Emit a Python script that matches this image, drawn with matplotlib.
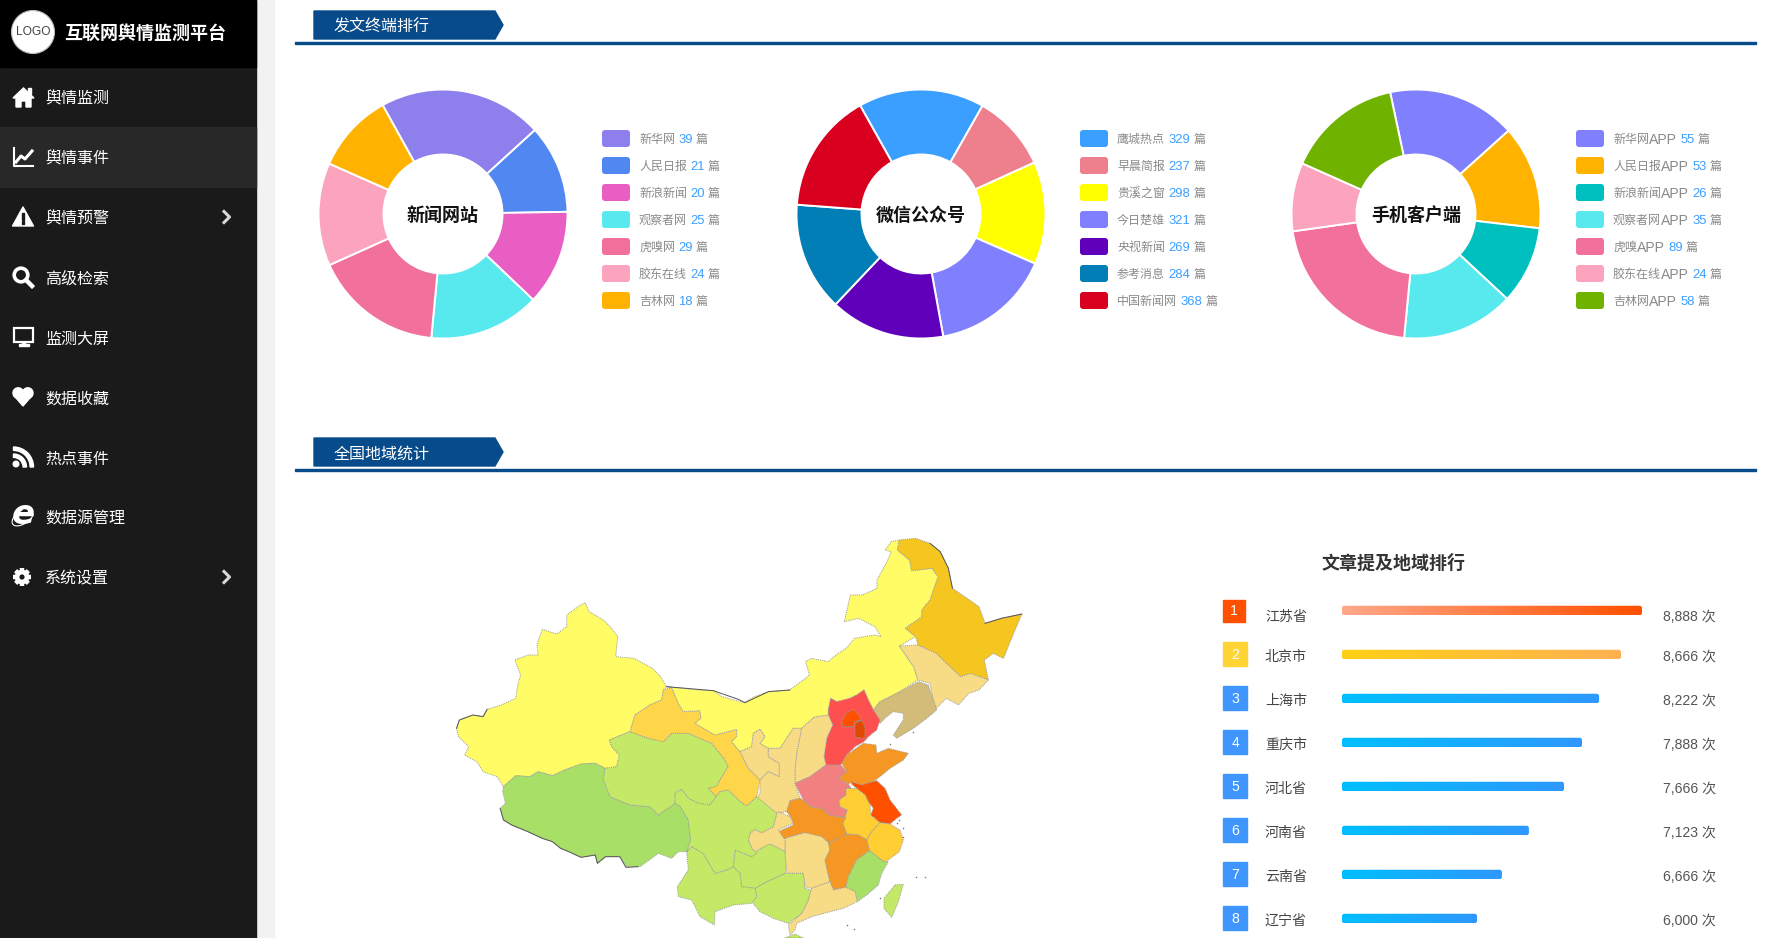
import matplotlib
matplotlib.use('Agg')
import matplotlib.pyplot as plt
import numpy as np
from matplotlib.colors import LinearSegmentedColormap
from matplotlib.patches import Arc, Circle, FancyBboxPatch, Polygon, Rectangle, Wedge

plt.rcParams['font.family'] = ['Liberation Sans', 'Noto Sans CJK SC', 'DejaVu Sans']

W, H = 1775, 938

# sidebar
menu_items = ['舆情监测', '舆情事件', '舆情预警', '高级检索', '监测大屏', '数据收藏', '热点事件', '数据源管理', '系统设置']
menu_with_arrow = ['舆情预警', '系统设置']

# donuts: legend counts as printed, slice sizes in degrees as drawn in the picture
news_names = ['新华网', '人民日报', '新浪新闻', '观察者网', '虎嗅网', '胶东在线', '吉林网']
news_counts = [39, 21, 20, 25, 29, 24, 18]
news_slices = [76.6, 41.4, 44.6, 51.8, 60.4, 48.1, 37.1]
news_colors = ['#8E80EC', '#5087F0', '#E85EC2', '#58E9EF', '#F2719C', '#FCA3BD', '#FFB300']

wechat_names = ['鹰城热点', '早晨简报', '贵溪之窗', '今日楚雄', '央视新闻', '参考消息', '中国新闻网']
wechat_counts = [329, 237, 298, 321, 269, 284, 368]
wechat_slices = [58.9, 36.0, 47.9, 56.2, 53.7, 50.9, 56.4]
wechat_colors = ['#3A9FFF', '#EE808E', '#FFFF00', '#8080FF', '#6000BB', '#007EB5', '#D9001F']

app_names = ['新华网APP', '人民日报APP', '新浪新闻APP', '观察者网APP', '虎嗅APP', '胶东在线APP', '吉林网APP']
app_counts = [55, 53, 26, 35, 89, 24, 58]
app_slices = [60.0, 48.6, 36.4, 52.5, 76.5, 32.0, 54.0]
app_colors = ['#8080FF', '#FFB300', '#00BFBF', '#58E9EF', '#F2719C', '#FCA3BD', '#6FB300']

# ranking
rank_names = ['江苏省', '北京市', '上海市', '重庆市', '河北省', '河南省', '云南省', '辽宁省']
rank_values = [8888, 8666, 8222, 7888, 7666, 7123, 6666, 6000]
rank_bar_pct = [100, 93, 85.7, 80, 74, 62.3, 53.3, 45]

# map colours by level
level_colors = {
    'y': '#FFFC66', 'a': '#A8E067', 'b': '#C3E966', 'c': '#F7DC85', 'd': '#FFD54A',
    'e': '#FFCE33', 'f': '#F59722', 'g': '#F5C520', 'h': '#D3BB7A', 'i': '#F28080',
    'j': '#FF5050', 'k': '#FF5000', 'l': '#E04A00',
}


def east(pts):
    return [(759.5 + 0.8167 * a, 420 + b) for a, b in pts]


def mid(pts):
    return [(416.5 + 0.8167 * a, 360 + b) for a, b in pts]


provinces = {
    '新疆': ('y', [(65,625),(72,600),(105,585),(130,590),(140,568),(175,555),(210,535),(215,495),(222,465),(208,420),(240,405),(265,405),(262,375),(275,328),(310,342),(335,320),(335,285),(360,262),(380,248),(390,275),(425,300),(445,325),(460,350),(455,410),(500,415),(545,445),(565,470)]
              + mid([(200,140),(190,150),(185,180),(150,195),(105,225),(90,275),(28,300),(35,320),(58,345),(50,380),(15,385)])
              + [(405,730),(370,732),(330,750),(300,767),(265,755),(245,770),(210,767),(180,800),(165,770),(130,755),(115,725),(85,705),(95,680),(70,650)]),
    '西藏': ('a', [(180,800),(210,767),(245,770),(265,755),(300,767),(330,750),(370,732),(405,730)]
              + mid([(15,385),(10,420),(30,470),(90,495),(150,500),(175,525),(225,490),(240,498),(265,540),(272,600),(260,635),(235,635),(215,655),(175,640),(120,680),(80,680),(60,650)])
              + [(430,1010),(410,1030),(405,1005),(370,1012),(340,995),(320,985),(300,965),(275,955),(240,935),(200,915),(180,900),(172,865),(185,850),(178,815)]),
    '青海': ('b', mid([(28,300),(90,275),(145,295),(190,305),(215,280),(265,280),(335,310),(375,360),(385,380),(360,420),(350,440),(325,445),(350,470),(360,455),(330,495),(295,490),(265,475),(245,448),(225,460),(225,490),(175,525),(150,500),(90,495),(30,470),(10,420),(15,385),(50,380),(58,345),(35,320)])),
    '甘肃': ('d', mid([(190,150),(215,142),(235,190),(250,215),(300,212),(303,235),(285,250),(345,285),(410,268),(410,290),(395,305),(420,335),(445,385),(480,420),(470,470),(440,498),(420,485),(385,450),(360,455),(350,470),(325,445),(350,440),(360,420),(385,380),(375,360),(335,310),(265,280),(215,280),(190,305),(145,295),(90,275),(105,225),(150,195),(185,180)])),
    '内蒙古': ('y', [(580,500),(660,510),(695,512),(715,530),(770,548),(795,530),(830,515),(880,510),(915,480),(930,465),(920,425),(935,415),(975,425),(1000,400),(1020,385),(1040,355),(1090,345),(1105,350),(1090,320),(1050,295),(1015,305),(1030,225),(1060,225),(1095,205),(1095,180),(1120,125),(1130,95),(1115,90),(1130,65),(1150,60),(1145,90),(1175,120),(1180,152),(1230,145),(1245,170),(1225,240),(1205,270),(1205,290),(1165,325),(1190,350),(1150,378),(1165,405),(1185,440),(1195,480)]
               + east([(480,95),(420,125),(400,150),(385,120),(372,90),(350,105),(330,115),(290,125),(272,115),(265,150),(265,165),(222,172),(185,205),(160,205),(120,265),(85,265),(60,250),(75,230),(60,208),(40,220),(35,260),(0,275),(-25,245),(-10,230),(-10,208),(-75,225),(-135,190),(-117,175),(-120,152),(-170,155),(-185,130),(-205,82)])),
    '宁夏': ('c', east([(0,275),(35,260),(40,220),(60,208),(75,230),(60,250),(85,265),(85,290),(118,310),(118,350),(85,335),(60,360),(25,325)])),
    '黑龙江': ('g', [(1150,60),(1190,55),(1225,70),(1250,95),(1270,145),(1280,205),(1310,230),(1345,260),(1360,310),(1400,295),(1450,282),(1430,340),(1405,415),(1380,400),(1358,420),(1368,480),(1325,460),(1300,470),(1265,430),(1240,400),(1195,375),(1190,350),(1165,325),(1205,290),(1205,270),(1225,240),(1245,170),(1230,145),(1180,152),(1175,120),(1145,90)]),
    '吉林': ('c', [(1150,378),(1195,375),(1240,400),(1265,430),(1300,470),(1325,460),(1368,480),(1345,510),(1320,520),(1295,555),(1265,535),(1240,565),(1233,540),(1225,490),(1195,480),(1185,440),(1165,405)]),
    '辽宁': ('h', east([(400,150),(420,125),(480,95),(535,65),(565,75),(580,120),(590,150),(560,175),(520,205),(470,235),(460,225),(490,180),(490,160),(460,155),(440,170),(420,190)])),
    '河北': ('j', east([(265,150),(272,115),(290,125),(330,115),(350,105),(372,90),(385,120),(400,150),(420,180),(410,210),(385,230),(372,245),(345,260),(320,285),(305,310),(302,315),(258,315),(252,290),(260,235),(278,195),(265,165)])),
    '北京': ('k', east([(305,185),(318,160),(340,148),(358,165),(362,180),(345,185),(340,200),(308,200)])),
    '天津': ('l', east([(345,190),(365,180),(375,200),(375,235),(345,232)])),
    '山西': ('c', east([(222,172),(265,165),(278,195),(260,235),(252,290),(258,315),(210,350),(165,370),(165,330),(170,280),(185,205)])),
    '陕西': ('c', east([(120,265),(160,205),(185,205),(170,280),(165,330),(165,370),(180,415),(150,422),(140,455),(110,460),(40,430),(60,400),(60,360),(85,335),(118,350),(118,310),(85,290),(85,265)])),
    '河南': ('i', east([(165,370),(210,350),(258,315),(302,315),(320,335),(295,355),(325,372),(340,395),(318,405),(298,420),(300,440),(322,450),(318,472),(295,470),(265,465),(250,448),(210,440),(190,420)])),
    '山东': ('f', east([(370,250),(408,255),(410,280),(445,265),(505,280),(490,300),(450,325),(420,350),(395,368),(365,375),(340,365),(325,372),(295,355),(320,335),(305,310),(320,285)])),
    '江苏': ('k', east([(335,365),(365,375),(410,362),(435,385),(450,420),(485,465),(470,475),(450,492),(420,488),(392,465),(400,445),(385,425),(375,405),(350,385),(335,372)])),
    '安徽': ('e', east([(318,385),(350,385),(375,405),(390,435),(392,465),(420,488),(395,515),(380,540),(355,525),(320,522),(308,490),(322,450),(300,440),(298,420),(318,405)])),
    '浙江': ('e', east([(420,488),(450,492),(480,510),(490,540),(478,575),(445,600),(430,605),(405,585),(388,572),(380,540),(395,515)])),
    '湖北': ('f', east([(150,422),(180,415),(190,420),(210,440),(250,448),(265,465),(295,470),(318,472),(308,490),(320,522),(295,535),(265,548),(245,530),(195,518),(135,535),(125,540),(115,515),(160,495),(155,475),(140,455)])),
    '湖南': ('c', east([(135,535),(195,518),(245,530),(265,548),(270,570),(255,600),(270,665),(215,685),(195,680),(190,640),(140,640),(135,590)])),
    '江西': ('f', east([(265,548),(295,535),(320,522),(355,525),(380,540),(388,572),(350,600),(325,650),(318,682),(280,690),(270,665),(255,600),(270,570)])),
    '福建': ('a', east([(388,572),(405,585),(430,605),(445,605),(425,640),(415,675),(380,705),(352,725),(345,695),(318,682),(325,650),(350,600)])),
    '广东': ('c', east([(215,685),(270,665),(280,690),(318,682),(345,695),(352,725),(310,745),(270,755),(215,770),(170,790),(165,810),(150,825),(145,795),(185,760),(205,720)])),
    '广西': ('b', mid([(455,785),(470,770),(465,745),(500,725),(555,700),(610,700),(615,745),(633,750),(625,780),(605,820),(565,850),(520,835),(480,815)])),
    '重庆': ('c', mid([(450,580),(465,568),(485,578),(520,560),(530,520),(535,515),(570,530),(580,550),(535,570),(555,600),(555,635),(510,612),(475,630),(455,650),(470,640),(455,625),(445,600)])),
    '贵州': ('b', mid([(405,630),(455,650),(475,630),(510,612),(555,635),(558,680),(555,700),(500,725),(465,745),(425,740),(420,700),(400,680)])),
    '云南': ('b', mid([(260,635),(275,620),(310,640),(345,700),(380,690),(400,680),(420,700),(425,740),(465,745),(470,770),(455,790),(400,795),(345,815),(343,855),(300,830),(275,780),(235,770),(232,740),(265,690)])),
    '四川': ('b', mid([(225,460),(245,448),(265,475),(295,490),(330,495),(360,455),(385,450),(420,485),(440,498),(470,470),(530,520),(520,560),(485,578),(465,568),(450,580),(445,600),(455,625),(470,640),(455,650),(405,630),(400,680),(380,690),(345,700),(310,640),(275,620),(260,635),(272,600),(265,540),(240,498),(225,490)])),
    '海南': ('b', east([(135,834),(165,822),(190,834)])),
    '台湾': ('b', east([(465,675),(490,673),(475,725),(455,772),(432,745),(432,715)])),
}
# dark stretches of the outer border
dark_borders = [
    mid([(200,140),(340,152),(415,178),(435,188),(505,155),(570,150)]),
    [(172,865),(180,900),(200,915),(240,935),(275,955),(300,965),(320,985),(340,995),(370,1012),(405,1005),(410,1030),(430,1010),(465,1010),(480,1042),(510,1040)],
    [(1225,70),(1250,95),(1270,145),(1280,205)],
    [(1360,310),(1400,295),(1450,282)],
    [(65,625),(72,600),(105,585),(130,590),(140,568)],
]
coast_specks = [(1190,1072),(1213,1070),(1102,1135),(1022,1215),(1040,1228),(1150,900),(1158,925),(1160,950),(1143,910),(1183,635),(1128,672)]


def px_axes(fig, x0, y0, x1, y1, zorder=2):
    """Axes placed by pixel box, y measured from the top"""
    ax = fig.add_axes([x0 / W, 1 - y1 / H, (x1 - x0) / W, (y1 - y0) / H], zorder=zorder)
    ax.axis('off')
    return ax


def px_font(px):
    return px * 72 / 100


def write_runs(ax, renderer, x, y, runs):
    """Several colours on one line, placed one after another"""
    for text, color, size, gap in runs:
        t = ax.text(x, y, text, color=color, fontsize=px_font(size), ha='left', va='center')
        x += t.get_window_extent(renderer).width + gap


def draw_icon(ax, i, y):
    c = 'white'
    if i == 0:  # home
        ax.add_patch(Polygon([(13, y + 1), (23.5, y - 9), (34, y + 1), (31, y + 1), (31, y + 10), (26, y + 10),
                              (26, y + 4), (21, y + 4), (21, y + 10), (16, y + 10), (16, y + 1)], color=c))
        ax.add_patch(Rectangle((28, y - 9), 3, 6, color=c))
    elif i == 1:  # chart
        ax.plot([13.5, 13.5, 33], [y - 9, y + 9, y + 9], color=c, lw=1.5)
        ax.plot([16, 21, 25, 32], [y + 5, y - 1, y + 2, y - 6], color=c, lw=2.2)
    elif i == 2:  # warning
        ax.add_patch(Polygon([(23, y - 10), (33.5, y + 9), (12.5, y + 9)], color=c, joinstyle='round'))
        ax.add_patch(Rectangle((21.8, y - 4), 2.4, 7, color='#1A1A1A'))
        ax.add_patch(Rectangle((21.8, y + 4.5), 2.4, 2.4, color='#1A1A1A'))
    elif i == 3:  # search
        ax.add_patch(Circle((21, y - 2), 6.8, fill=False, ec=c, lw=2.6))
        ax.plot([26, 32], [y + 3, y + 9], color=c, lw=3.2)
    elif i == 4:  # monitor
        ax.add_patch(Rectangle((14, y - 9), 19, 14, fill=False, ec=c, lw=1.6))
        ax.add_patch(Rectangle((21.5, y + 5), 3.5, 3, color=c))
        ax.add_patch(Rectangle((18.5, y + 7.5), 10, 1.8, color=c))
    elif i == 5:  # heart
        ax.add_patch(Circle((18.2, y - 4), 5.2, color=c))
        ax.add_patch(Circle((27.8, y - 4), 5.2, color=c))
        ax.add_patch(Polygon([(13.4, y - 2), (32.6, y - 2), (23, y + 9)], color=c))
    elif i == 6:  # rss, y runs downward here so the arcs take 270-360
        ax.add_patch(Circle((16, y + 7), 2.8, color=c))
        ax.add_patch(Wedge((13.5, y + 10), 13, 270, 360, width=3.4, color=c))
        ax.add_patch(Wedge((13.5, y + 10), 20, 270, 360, width=3.4, color=c))
    elif i == 7:  # ie
        ax.text(23.5, y - 2.5, 'e', color=c, fontsize=px_font(34), fontweight='bold', fontstyle='italic',
                family='DejaVu Sans', ha='center', va='center')
        ax.add_patch(Arc((23, y), 25, 13, angle=-35, theta1=20, theta2=300, color=c, lw=0.8))
    else:  # gear
        for a in np.deg2rad(np.arange(0, 360, 45)):
            ax.plot([22 + 6 * np.cos(a), 22 + 9 * np.cos(a)], [y + 6 * np.sin(a), y + 9 * np.sin(a)],
                    color=c, lw=3.2, solid_capstyle='butt')
        ax.add_patch(Circle((22, y), 5, fill=False, ec=c, lw=3.4))


def draw_section_head(ax, title, top):
    ax.add_patch(Polygon([(314, top), (495, top), (503, top + 14), (495, top + 28), (314, top + 28)], color='#084B8A'))
    ax.text(334, top + 16.5, title, color='white', fontsize=px_font(16), ha='left', va='center')
    ax.add_patch(Rectangle((295, top + 31), 1461, 2, color='#084B8A'))


def draw_donut(fig, ax, renderer, cx, title, names, counts, slices, colors, start, legend_x):
    cy, r, hole = 214, 124.5, 59.5
    pie_ax = px_axes(fig, cx - r, cy - r, cx + r, cy + r)
    pie_ax.pie(slices, colors=colors, startangle=start, counterclock=False, radius=1,
               wedgeprops=dict(width=1 - hole / r, edgecolor='white', linewidth=1.4))
    pie_ax.set_xlim(-1, 1)
    pie_ax.set_ylim(-1, 1)
    ax.text(cx, cy + 2, title, color='#111111', fontsize=px_font(18), fontweight='bold',
            ha='center', va='center', zorder=5)
    grey, blue = '#8A8A8A', '#3A9FFF'
    for i, (name, count, color) in enumerate(zip(names, counts, colors)):
        y = 130 + 27 * i
        ax.add_patch(FancyBboxPatch((legend_x + 2, y + 2), 24, 13, boxstyle='round,pad=2,rounding_size=3',
                                    fc=color, ec='none'))
        if name.endswith('APP'):
            runs = [(name[:-3], grey, 12, 0), ('APP', grey, 14, 3.5)]
        else:
            runs = [(name, grey, 12, 3.5)]
        runs += [(str(count), blue, 13, 3), ('篇', grey, 12, 0)]
        write_runs(ax, renderer, legend_x + 37, y + 10, runs)


def draw_map(fig):
    map_ax = px_axes(fig, 430, 520, 1070, 938)
    map_ax.set_xlim(0, 1568)
    map_ax.set_ylim(1254, 0)
    for level, outline in provinces.values():
        map_ax.add_patch(Polygon(outline, closed=True, fc=level_colors[level], ec='#9C9C9C', lw=0.7, ls=(0, (1, 1))))
    for line in dark_borders:
        map_ax.plot(*zip(*line), color='#555555', lw=0.7)
    map_ax.plot(*zip(*coast_specks), ls='none', marker='s', ms=1, color='#777777', mew=0)


def draw_ranking(fig, ax):
    ax.text(1394, 564, '文章提及地域排行', color='#333333', fontsize=px_font(18), fontweight='bold',
            ha='center', va='center')
    bar_ax = px_axes(fig, 1342, 588.5, 1642, 940.5)
    bar_ax.set_clip_on(False)
    bar_h = 9.5 / 44
    gradient = np.linspace(0, 1, 256).reshape(1, -1)
    for i, (name, value, pct) in enumerate(zip(rank_names, rank_values, rank_bar_pct)):
        y = 610.5 + 44 * i
        if i == 0:
            box, ends = '#FF5000', ['#FFA98A', '#FF5000']
            ax.add_patch(Rectangle((1223, 600), 22, 22, color=box))
        else:
            box = '#FFD535' if i == 1 else '#3F96FF'
            ends = ['#FFD016', '#FFB152'] if i == 1 else ['#00BFFF', '#2E98FF']
            ax.add_patch(Rectangle((1223, y - 12.5), 24, 24, color=box))
        ax.text(1234 if i == 0 else 1235, y + 0.5, str(i + 1), color='white', fontsize=px_font(14), ha='center', va='center')

        text_y = 617 if i == 0 else 613 + 44 * i
        ax.text(1265, text_y, name, color='#444444', fontsize=px_font(14), ha='left', va='center')
        ax.text(1663, text_y, f'{value:,} 次', color='#555555', fontsize=px_font(14), ha='left', va='center')

        patch = FancyBboxPatch((0, i - bar_h / 2), pct, bar_h, boxstyle='round,pad=0,rounding_size=0.8',
                               mutation_aspect=3 / 44, fc='none', ec='none')
        bar_ax.add_patch(patch)
        img = bar_ax.imshow(gradient, extent=(0, pct, i + bar_h / 2, i - bar_h / 2), aspect='auto',
                            cmap=LinearSegmentedColormap.from_list('bar', ends))
        img.set_clip_path(patch)
    bar_ax.set_xlim(0, 100)
    bar_ax.set_ylim(7.5, -0.5)


def main():
    fig = plt.figure(figsize=(W / 100, H / 100), dpi=100, facecolor='white')
    ax = px_axes(fig, 0, 0, W, H, zorder=1)
    ax.set_xlim(0, W)
    ax.set_ylim(H, 0)
    renderer = fig.canvas.get_renderer()

    # sidebar
    ax.add_patch(Rectangle((255, 0), 19, H, color='#F2F2F2'))
    ax.add_patch(Rectangle((0, 0), 255.5, H, color='#1A1A1A'))
    ax.add_patch(Rectangle((0, 0), 255.5, 67, color='#000000'))
    ax.add_patch(Rectangle((0, 127), 255.5, 60, color='#282828'))
    ax.add_patch(Circle((33, 32), 21.5, fc='white', ec='#BBBBBB', lw=0.8))
    ax.text(33, 32, 'LOGO', color='#444444', fontsize=px_font(12), ha='center', va='center')
    ax.text(64, 34, '互联网舆情监测平台', color='white', fontsize=px_font(18), fontweight='bold', ha='left', va='center')
    for i, item in enumerate(menu_items):
        y = 97 + 60 * i
        draw_icon(ax, i, y)
        ax.text(45, y + 2, item, color='white', fontsize=px_font(16), ha='left', va='center')
        if item in menu_with_arrow:
            ax.plot([224, 229.5, 224], [y - 5.5, y, y + 5.5], color='#D8D8D8', lw=2.2)

    draw_section_head(ax, '发文终端排行', 11)
    draw_section_head(ax, '全国地域统计', 438)

    draw_donut(fig, ax, renderer, 443, '新闻网站', news_names, news_counts, news_slices, news_colors, 119, 602)
    draw_donut(fig, ax, renderer, 921, '微信公众号', wechat_names, wechat_counts, wechat_slices, wechat_colors, 119.3, 1080)
    draw_donut(fig, ax, renderer, 1416, '手机客户端', app_names, app_counts, app_slices, app_colors, 102, 1576)

    draw_map(fig)
    draw_ranking(fig, ax)

    fig.savefig('out.png', dpi=100)
    plt.close(fig)


if __name__ == '__main__':
    main()
